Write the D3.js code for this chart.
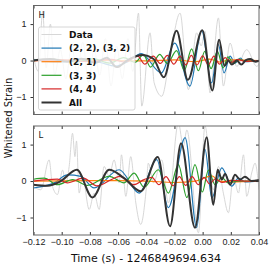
<!DOCTYPE html>
<html>
<head>
<meta charset="utf-8">
<script src="https://cdn.jsdelivr.net/npm/d3@7"></script>
<style>
  body { margin: 0; background: #fff; }
  svg { font-family: "DejaVu Sans", sans-serif; }
  .tick text { font-size: 9px; fill: #222; }
</style>
</head>
<body>
<div id="chart"></div>
<script>
// series labels and colours
var labels = ["Data", "(2, 2), (3, 2)", "(2, 1)", "(3, 3)", "(4, 4)", "All"];
var colors = ["#d2d2d2", "#1f77b4", "#ff7f0e", "#2ca02c", "#d62728", "#333333"];
var xTicks = [-0.12, -0.10, -0.08, -0.06, -0.04, -0.02, 0.00, 0.02, 0.04];
var yTicks = [-1, 0, 1];

// H detector: [time, value] at turning points
var H_data_t = [-0.12, -0.1165, -0.1135, -0.111, -0.108, -0.105, -0.101, -0.097, -0.093, -0.089, -0.085, -0.081, -0.077, -0.073, -0.069, -0.065, -0.061, -0.057, -0.053, -0.0495, -0.0455, -0.0432, -0.0373, -0.0344, -0.029, -0.0231, -0.016, -0.0101, -0.0042, -0.001, 0.0017, 0.0053, 0.0112, 0.0147, 0.0195, 0.0242, 0.0313, 0.0384, 0.04];
var H_data_v = [0.1, -0.3, 1.35, -0.2, 1.0, -0.4, 0.3, -0.5, 0.4, -0.3, 0.5, -0.6, 0.3, -0.4, 0.6, -0.7, 0.4, -0.5, 0.6, -0.3, 1.3, -1.25, 0.76, -0.61, -0.98, 0.12, 1.3, -0.8, 0.76, 0.4, 0.8, -0.89, 1.17, -0.7, 0.48, -0.16, 0.3, -0.16, -0.1];
var H_22_t = [-0.12, -0.1, -0.085, -0.072, -0.062, -0.053, -0.0436, -0.0293, -0.0198, -0.009, -0.0007, 0.0064, 0.0112, 0.0152, 0.0195, 0.023, 0.0267, 0.03, 0.04];
var H_22_v = [0.02, -0.04, 0.05, -0.06, -0.15, -0.03, 0.19, -0.34, 0.48, -0.70, 0.82, -0.61, 0.44, -0.34, 0.12, -0.07, 0.07, -0.03, 0.0];
var H_21_t = [-0.12, -0.08, -0.04, -0.02, -0.005, 0.005, 0.012, 0.02, 0.04];
var H_21_v = [0.0, 0.01, -0.01, 0.02, -0.03, 0.04, -0.04, 0.02, 0.0];
var H_33_t = [-0.12, -0.105, -0.09, -0.078, -0.066, -0.056, -0.048, -0.042, -0.037, -0.0305, -0.025, -0.0185, -0.013, -0.0078, -0.003, 0.0015, 0.006, 0.0105, 0.0145, 0.018, 0.022, 0.026, 0.03, 0.04];
var H_33_v = [0.0, 0.03, -0.04, 0.05, -0.07, 0.08, -0.05, 0.16, -0.18, 0.17, -0.08, 0.27, -0.27, 0.32, -0.28, 0.25, -0.22, 0.25, -0.2, 0.1, -0.08, 0.04, -0.02, 0.0];
var H_44_t = [-0.12, -0.1, -0.08, -0.065, -0.055, -0.046, -0.041, -0.035, -0.03, -0.025, -0.0205, -0.016, -0.012, -0.008, -0.004, 0.0, 0.004, 0.008, 0.012, 0.016, 0.02, 0.025, 0.03, 0.04];
var H_44_v = [0.0, 0.02, -0.03, 0.03, -0.04, 0.12, -0.1, 0.12, -0.08, 0.14, -0.1, 0.12, -0.12, 0.14, -0.12, 0.13, -0.12, 0.12, -0.1, 0.08, -0.05, 0.03, -0.02, 0.0];
var H_all_t = [-0.12, -0.108, -0.096, -0.086, -0.076, -0.068, -0.061, -0.053, -0.043, -0.035, -0.0275, -0.0185, -0.0105, -0.0002, 0.0069, 0.0117, 0.0155, 0.0183, 0.0207, 0.0243, 0.0274, 0.0307, 0.0338, 0.0374, 0.04];
var H_all_v = [0.0, 0.04, -0.03, 0.05, -0.06, 0.08, -0.18, 0.02, 0.15, 0.05, -0.46, 0.82, -0.53, 0.83, -0.82, 0.57, -0.15, 0.0, -0.11, 0.0, -0.11, 0.01, 0.04, -0.03, 0.0];

// L detector
var L_data_t = [-0.12, -0.1148, -0.1089, -0.1065, -0.103, -0.0994, -0.097, -0.0947, -0.0923, -0.0906, -0.0895, -0.0876, -0.0852, -0.0805, -0.077, -0.0734, -0.0699, -0.0663, -0.0628, -0.0592, -0.0576, -0.0545, -0.051, -0.0474, -0.0439, -0.0403, -0.0385, -0.0349, -0.029, -0.0243, -0.0172, -0.0137, -0.0112, -0.003, 0.0017, 0.0053, 0.0076, 0.0112, 0.0147, 0.0183, 0.0218, 0.0254, 0.029, 0.0313, 0.0348, 0.0372, 0.04];
var L_data_v = [-0.15, -0.24, 0.58, -0.15, -0.37, 0.3, -0.05, 0.4, 1.31, 0.67, 1.1, -0.33, 0.13, -0.78, -0.33, -0.78, 0.4, 0.13, 0.58, -0.05, 0.72, -0.42, 0.67, -0.6, -1.19, -0.33, 0.49, -0.05, 0.58, -0.6, 1.6, 0.95, 1.4, -1.42, 1.52, 0.31, -0.24, 0.4, -0.33, -0.87, 0.13, -0.33, 0.72, -0.42, 0.22, 0.49, -0.24];
var L_22_t = [-0.12, -0.1053, -0.0959, -0.0864, -0.077, -0.0592, -0.045, -0.0325, -0.0243, -0.0124, -0.0042, 0.0017, 0.0065, 0.0136, 0.0207, 0.0254, 0.03, 0.04];
var L_22_v = [-0.19, -0.05, 0.17, 0.13, -0.19, 0.31, -0.33, 0.59, -0.73, 1.19, -1.28, 0.87, -0.46, 0.36, -0.14, 0.08, -0.02, 0.0];
var L_21_t = [-0.12, -0.06, -0.04, -0.02, -0.005, 0.0065, 0.012, 0.02, 0.04];
var L_21_v = [0.0, 0.01, 0.0, -0.04, 0.0, 0.14, 0.0, -0.02, 0.0];
var L_33_t = [-0.12, -0.1124, -0.103, -0.0923, -0.0817, -0.0663, -0.0557, -0.0486, -0.0415, -0.0314, -0.0243, -0.0172, -0.0112, -0.0054, -0.0002, 0.0041, 0.0088, 0.0136, 0.018, 0.025, 0.04];
var L_33_v = [0.05, 0.08, -0.1, 0.04, -0.12, 0.13, -0.05, 0.22, -0.17, 0.31, -0.33, 0.45, -0.45, 0.45, -0.3, 0.3, -0.1, 0.1, -0.05, 0.0, 0.0];
var L_44_t = [-0.12, -0.103, -0.096, -0.0846, -0.075, -0.0642, -0.059, -0.049, -0.0415, -0.036, -0.031, -0.026, -0.021, -0.0165, -0.012, -0.0075, -0.003, 0.001, 0.005, 0.009, 0.014, 0.02, 0.03, 0.04];
var L_44_v = [0.0, 0.05, -0.05, 0.08, -0.13, 0.05, 0.13, -0.1, 0.04, 0.1, -0.1, 0.12, -0.13, 0.12, -0.12, 0.12, -0.1, 0.1, -0.08, 0.06, -0.04, 0.02, 0.0, 0.0];
var L_all_t = [-0.12, -0.11, -0.1006, -0.0892, -0.0782, -0.0663, -0.0557, -0.0439, -0.0318, -0.0231, -0.0153, -0.0054, 0.0029, 0.0076, 0.0107, 0.0136, 0.0159, 0.0195, 0.023, 0.0266, 0.03, 0.0348, 0.04];
var L_all_v = [-0.1, -0.13, 0.0, 0.31, -0.45, 0.31, 0.08, -0.28, 0.66, -1.24, 1.04, -1.28, 1.2, -0.65, 0.31, 0.04, 0.2, -0.1, 0.17, 0.04, 0.12, 0.0, 0.03];

var panels = [
  {name: "H", series: [[H_data_t, H_data_v], [H_22_t, H_22_v], [H_21_t, H_21_v], [H_33_t, H_33_v], [H_44_t, H_44_v], [H_all_t, H_all_v]]},
  {name: "L", series: [[L_data_t, L_data_v], [L_22_t, L_22_v], [L_21_t, L_21_v], [L_33_t, L_33_v], [L_44_t, L_44_v], [L_all_t, L_all_v]]}
];

var W = 276, H = 269;
var left = 33.5, right = 259;
var tops = [5.5, 126], ph = 109;

var svg = d3.select("#chart").append("svg")
    .attr("width", W).attr("height", H);

var x = d3.scaleLinear().domain([-0.12, 0.04]).range([left, right]);
var widths = [0.9, 1.2, 1.2, 1.2, 1.2, 2];
var minus = function(s) { return String(s).replace("-", "\u2212"); };

panels.forEach(function(p, i) {
    var y = d3.scaleLinear().domain([-1.48, 1.51]).range([tops[i] + ph, tops[i]]);
    var g = svg.append("g");

    g.append("clipPath").attr("id", "clip" + i)
      .append("rect").attr("x", left).attr("y", tops[i])
      .attr("width", right - left).attr("height", ph);

    var line = d3.line()
        .x(function(d) { return x(d[0]); })
        .y(function(d) { return y(d[1]); })
        .curve(d3.curveMonotoneX);

    var plot = g.append("g").attr("clip-path", "url(#clip" + i + ")");
    p.series.forEach(function(s, k) {
        var pts = d3.zip(s[0], s[1]);
        plot.append("path")
            .datum(pts)
            .attr("fill", "none")
            .attr("stroke", colors[k])
            .attr("stroke-width", widths[k])
            .attr("d", line);
    });

    // axes: inward ticks at bottom, top and right, outward on the left
    var ax = g.append("g").attr("transform", "translate(0," + (tops[i] + ph) + ")")
        .call(d3.axisBottom(x).tickValues(xTicks).tickSizeInner(-3).tickSizeOuter(0)
            .tickFormat(i == 1 ? function(d) { return minus(d3.format(".2f")(d)); } : ""));
    ax.selectAll("text").attr("y", 4);
    g.append("g").attr("transform", "translate(0," + tops[i] + ")")
        .call(d3.axisTop(x).tickValues(xTicks).tickSizeInner(-3).tickSizeOuter(0).tickFormat(""));
    var ay = g.append("g").attr("transform", "translate(" + left + ",0)")
        .call(d3.axisLeft(y).tickValues(yTicks).tickSizeInner(3).tickSizeOuter(0)
            .tickFormat(function(d) { return minus(d); }));
    ay.selectAll("text").attr("x", -7);
    g.append("g").attr("transform", "translate(" + right + ",0)")
        .call(d3.axisRight(y).tickValues(yTicks).tickSizeInner(-3).tickSizeOuter(0).tickFormat(""));
    g.selectAll(".domain").remove();
    g.selectAll(".tick line").attr("stroke", "#333");

    g.append("rect").attr("x", left).attr("y", tops[i])
        .attr("width", right - left).attr("height", ph)
        .attr("fill", "none").attr("stroke", "#666").attr("stroke-width", 1);

    g.append("text").attr("x", left + 5).attr("y", tops[i] + 12)
        .attr("font-size", 8.5).attr("fill", "#222").text(p.name);
});

// legend in the top panel
var lg = svg.append("g").attr("transform", "translate(38.5,27)");
lg.append("rect").attr("width", 96.5).attr("height", 83).attr("rx", 2)
    .attr("fill", "#fff").attr("fill-opacity", 0.8)
    .attr("stroke", "#ccc").attr("stroke-width", 0.8);
labels.forEach(function(l, k) {
    var yy = 7.5 + k * 13.6;
    lg.append("line").attr("x1", 3).attr("x2", 23).attr("y1", yy).attr("y2", yy)
        .attr("stroke", colors[k]).attr("stroke-width", widths[k]);
    lg.append("text").attr("x", 30.5).attr("y", yy + 3.3)
        .attr("font-size", 9).attr("font-weight", "bold").attr("fill", "#111").text(l);
});

svg.append("text").attr("x", 146).attr("y", 262)
    .attr("text-anchor", "middle").attr("font-size", 11).attr("fill", "#111")
    .text("Time (s) - 1246849694.634");
svg.append("text").attr("transform", "translate(12,118) rotate(-90)")
    .attr("text-anchor", "middle").attr("font-size", 10).attr("fill", "#111")
    .text("Whitened Strain");
</script>
</body>
</html>
